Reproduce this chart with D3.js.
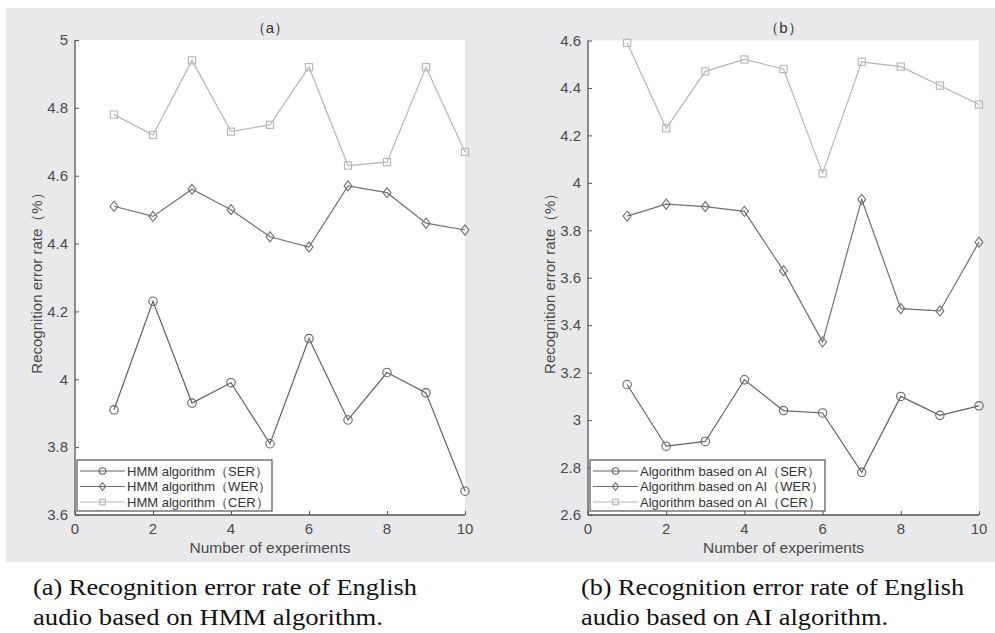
<!DOCTYPE html>
<html>
<head>
<meta charset="utf-8">
<script src="https://cdn.jsdelivr.net/npm/d3@7"></script>
<style>
    body { margin: 0; background: #fff; }
    svg text { font-family: "Liberation Sans", Arial, sans-serif; }
    svg text.caption { font-family: "Liberation Serif", "Times New Roman", serif; }
</style>
</head>
<body>
<svg id="chart" width="995" height="633"></svg>
<script>
// experiments 1..10
var experiments = [1, 2, 3, 4, 5, 6, 7, 8, 9, 10];
var xTicks = [0, 2, 4, 6, 8, 10];

// (a) HMM algorithm
var hmmSER = [3.91, 4.23, 3.93, 3.99, 3.81, 4.12, 3.88, 4.02, 3.96, 3.67];
var hmmWER = [4.51, 4.48, 4.56, 4.50, 4.42, 4.39, 4.57, 4.55, 4.46, 4.44];
var hmmCER = [4.78, 4.72, 4.94, 4.73, 4.75, 4.92, 4.63, 4.64, 4.92, 4.67];
var hmmYTicks = [3.6, 3.8, 4, 4.2, 4.4, 4.6, 4.8, 5];

// (b) algorithm based on AI
var aiSER = [3.15, 2.89, 2.91, 3.17, 3.04, 3.03, 2.78, 3.10, 3.02, 3.06];
var aiWER = [3.86, 3.91, 3.90, 3.88, 3.63, 3.33, 3.93, 3.47, 3.46, 3.75];
var aiCER = [4.59, 4.23, 4.47, 4.52, 4.48, 4.04, 4.51, 4.49, 4.41, 4.33];
var aiYTicks = [2.6, 2.8, 3, 3.2, 3.4, 3.6, 3.8, 4, 4.2, 4.4, 4.6];

var svg = d3.select("#chart");

// one grey figure background behind both panels
svg.append("rect")
    .attr("x", 6).attr("y", 8)
    .attr("width", 989).attr("height", 554)
    .attr("fill", "#e9e9eb");

var seriesStyle = [
    { key: "SER", color: "#626262", shape: "circle" },
    { key: "WER", color: "#707070", shape: "diamond" },
    { key: "CER", color: "#b5b5b5", shape: "square" }
];

function drawMarker(g, shape, x, y, size, color) {
    if (shape === "circle") {
        g.append("circle").attr("cx", x).attr("cy", y).attr("r", size)
            .attr("fill", "none").attr("stroke", color).attr("stroke-width", 1.1);
    } else if (shape === "diamond") {
        var w = size * 0.95, h = size * 1.2;
        g.append("path")
            .attr("d", "M" + x + "," + (y - h) + "L" + (x + w) + "," + y + "L" + x + "," + (y + h) + "L" + (x - w) + "," + y + "Z")
            .attr("fill", "none").attr("stroke", color).attr("stroke-width", 1.1);
    } else {
        var s = size * 0.85;
        g.append("rect").attr("x", x - s).attr("y", y - s)
            .attr("width", 2 * s).attr("height", 2 * s)
            .attr("fill", "none").attr("stroke", color).attr("stroke-width", 1.1);
    }
}

function drawPanel(p) {
    var x = d3.scaleLinear().domain([0, 10]).range([p.left, p.right]);
    var y = d3.scaleLinear().domain(p.yDomain).range([p.bottom, p.top]);
    var g = svg.append("g");

    // white plot area
    g.append("rect")
        .attr("x", p.left).attr("y", p.top)
        .attr("width", p.right - p.left).attr("height", p.bottom - p.top)
        .attr("fill", "#fff");

    // axes, ticks pointing inward
    var yAxis = g.append("g")
        .attr("transform", "translate(" + p.left + ",0)")
        .call(d3.axisRight(y).tickValues(p.yTicks).tickSize(4).tickFormat(""));
    yAxis.selectAll("line").attr("stroke", "#555");
    yAxis.select(".domain").attr("stroke", "#555").attr("stroke-width", 1.3)
        .attr("d", "M0," + p.top + "V" + p.bottom);

    var xAxis = g.append("g")
        .attr("transform", "translate(0," + p.bottom + ")")
        .call(d3.axisTop(x).tickValues(xTicks).tickSize(4).tickFormat(""));
    xAxis.selectAll("line").attr("stroke", "#555");
    xAxis.select(".domain").attr("stroke", "#555").attr("stroke-width", 1.3)
        .attr("d", "M" + p.left + ",0H" + p.right);

    // tick labels
    g.selectAll(".ylab").data(p.yTicks).enter().append("text")
        .attr("x", p.left - 7).attr("y", function (d) { return y(d); })
        .attr("dy", "0.35em").attr("text-anchor", "end")
        .attr("font-size", 15).attr("fill", "#4a4a4a")
        .text(function (d) { return d; });
    g.selectAll(".xlab").data(xTicks).enter().append("text")
        .attr("x", function (d) { return x(d); }).attr("y", p.bottom + 19)
        .attr("text-anchor", "middle")
        .attr("font-size", 15).attr("fill", "#4a4a4a")
        .text(function (d) { return d; });

    // titles
    g.append("text")
        .attr("x", (p.left + p.right) / 2).attr("y", 33)
        .attr("text-anchor", "middle").attr("font-size", 15).attr("fill", "#333")
        .text(p.title);
    g.append("text")
        .attr("x", (p.left + p.right) / 2).attr("y", p.bottom + 38)
        .attr("text-anchor", "middle").attr("font-size", 15.5).attr("fill", "#4a4a4a")
        .text("Number of experiments");
    g.append("text")
        .attr("transform", "translate(" + (p.left - 33) + "," + ((p.top + p.bottom) / 2 + 2) + ") rotate(-90)")
        .attr("text-anchor", "middle").attr("font-size", 15).attr("fill", "#4a4a4a")
        .text("Recognition error rate（%）");

    // series
    var line = d3.line()
        .x(function (d, i) { return x(experiments[i]); })
        .y(function (d) { return y(d); });

    p.series.forEach(function (vals, k) {
        var st = seriesStyle[k];
        g.append("path").datum(vals)
            .attr("d", line)
            .attr("fill", "none").attr("stroke", st.color).attr("stroke-width", 1.2);
        vals.forEach(function (v, i) {
            drawMarker(g, st.shape, x(experiments[i]), y(v), 4.2, st.color);
        });
    });

    // legend
    var lg = g.append("g").attr("transform", "translate(" + (p.left + 2) + "," + (p.bottom - 55) + ")");
    lg.append("rect")
        .attr("width", p.legendWidth).attr("height", 51)
        .attr("fill", "#fff").attr("stroke", "#555").attr("stroke-width", 1.2);
    seriesStyle.forEach(function (st, k) {
        var ly = 11 + k * 15.5;
        lg.append("line").attr("x1", 3).attr("x2", 48).attr("y1", ly).attr("y2", ly)
            .attr("stroke", st.color).attr("stroke-width", 1.2);
        drawMarker(lg, st.shape, 25.5, ly, 3.3, st.color);
        lg.append("text")
            .attr("x", 50).attr("y", ly).attr("dy", "0.35em")
            .attr("font-size", 13).attr("fill", "#333")
            .text(p.legendName + "（" + st.key + "）");
    });

    // caption, two lines
    p.caption.forEach(function (c, i) {
        svg.append("text").attr("class", "caption")
            .attr("x", p.captionX).attr("y", 595 + i * 30)
            .attr("font-size", 24).attr("fill", "#111")
            .attr("textLength", p.captionWidth[i]).attr("lengthAdjust", "spacingAndGlyphs")
            .text(c);
    });
}

drawPanel({
    left: 75, right: 465, top: 40, bottom: 515,
    yDomain: [3.6, 5], yTicks: hmmYTicks,
    title: "（a）",
    series: [hmmSER, hmmWER, hmmCER],
    legendName: "HMM algorithm",
    legendWidth: 195,
    captionX: 33,
    caption: ["(a) Recognition error rate of English", "audio based on HMM algorithm."],
    captionWidth: [384, 350]
});

drawPanel({
    left: 588, right: 979, top: 40.5, bottom: 515,
    yDomain: [2.6, 4.6], yTicks: aiYTicks,
    title: "（b）",
    series: [aiSER, aiWER, aiCER],
    legendName: "Algorithm based on AI",
    legendWidth: 235,
    captionX: 581,
    caption: ["(b) Recognition error rate of English", "audio based on AI algorithm."],
    captionWidth: [383, 307]
});
</script>
</body>
</html>
